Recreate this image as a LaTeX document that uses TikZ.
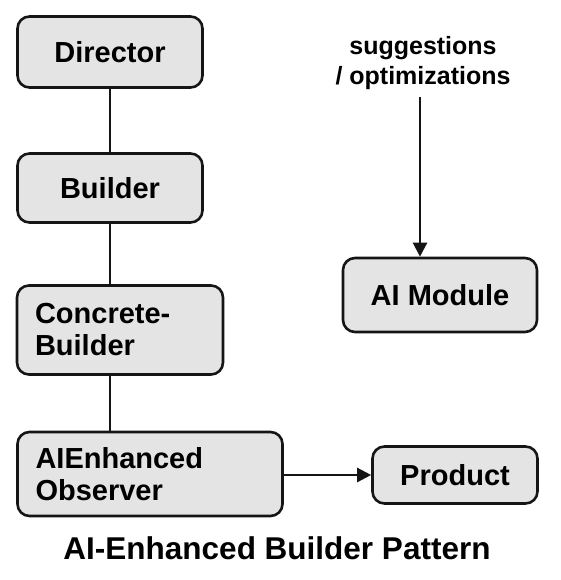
\documentclass[tikz,border=0pt]{standalone}
\usepackage{fontspec}
\setmainfont{Liberation Sans}
\usetikzlibrary{arrows.meta}
\definecolor{boxgray}{HTML}{E4E4E4}
\definecolor{edge}{HTML}{151515}
\tikzset{
	box/.style={draw=edge,line width=2.6pt,fill=boxgray,rounded corners=12pt,inner sep=0pt,
		font=\fontsize{29}{32}\selectfont\bfseries},
	leftbox/.style={box,align=left,inner xsep=18pt},
	link/.style={draw=edge,line width=2.3pt},
}
\begin{document}
\begin{tikzpicture}[x=1pt,y=-1pt,>={Triangle[length=14pt,width=14pt]}]
	\useasboundingbox (0,0) rectangle (560,580);
	% left column
	\node[box,minimum width=185pt,minimum height=71pt] (director) at (110,52) {Director};
	\node[box,minimum width=185pt,minimum height=69pt] (builder) at (110,188) {Builder};
	\node[leftbox,text width=170pt,minimum height=89pt] (concrete) at (120,330) {Concrete-\\Builder};
	\node[leftbox,text width=229pt,minimum height=84pt] (observer) at (150,474) {AIEnhanced\\Observer};
	% right side
	\node[box,minimum width=165pt,minimum height=57pt] (product) at (455,475) {Product};
	\node[box,minimum width=194pt,minimum height=74pt] (aimodule) at (440,295) {AI Module};
	\node[align=center,inner sep=0pt,font=\fontsize{25}{30}\selectfont\bfseries] (hint) at (423,63) {suggestions\\/ optimizations};
	\coordinate (hintend) at (420,97);
	% connectors
	\draw[link] (director) -- (builder);
	\draw[link] (builder) -- (builder|-concrete.north);
	\draw[link] (builder|-concrete.south) -- (builder|-observer.north);
	\draw[link,->] (observer.east|-product) -- (product.west);
	\draw[link,->] (hintend) -- (hintend|-aimodule.north);
	% title
	\node[font=\fontsize{31.5}{36}\selectfont\bfseries] (title) at (277,548) {AI-Enhanced Builder Pattern};
\end{tikzpicture}
\end{document}
